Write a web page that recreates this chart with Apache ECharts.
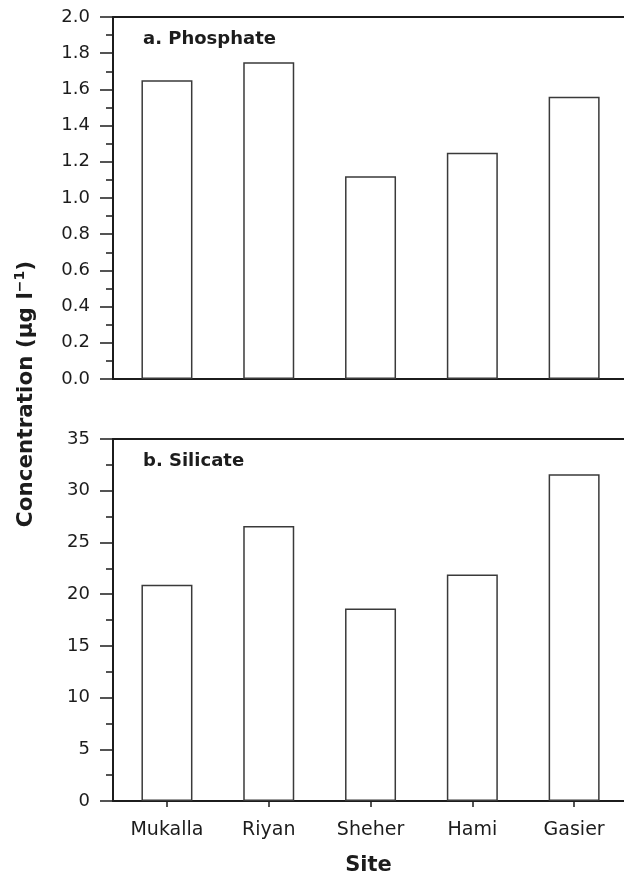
<!DOCTYPE html>
<html>
<head>
<meta charset="utf-8">
<script src="https://cdn.jsdelivr.net/npm/echarts@6/dist/echarts.min.js"></script>
<style>
html,body{margin:0;padding:0;background:#fff}
#c{width:624px;height:878px}
</style>
</head>
<body>
<div id="c"></div>
<script>
// ---- data ----
const sites = ['Mukalla', 'Riyan', 'Sheher', 'Hami', 'Gasier'];
const phosphate = [1.65, 1.75, 1.12, 1.25, 1.56];
const silicate = [20.9, 26.6, 18.6, 21.9, 31.6];
const siteTicks = [1, 2, 3, 4, 5];
const phosphateRange = [0, 2.0];
const phosphateStep = 0.2;
const silicateRange = [0, 35];
const silicateStep = 5;
const panelTitles = ['a. Phosphate', 'b. Silicate'];
const yTitle = 'Concentration (μg l{sup|−1})';
const xTitle = 'Site';

// ---- drawing ----
const FONT = 'DejaVu Sans';
const INK = '#1c1c1c';
const BAR = '#3a3a3a';
const X_MIN = 0.47, X_MAX = 5.49;

const chart = echarts.init(document.getElementById('c'), null, { renderer: 'canvas' });

function xAxisFor(grid, withLabels) {
  return {
    type: 'value', gridIndex: grid, min: X_MIN, max: X_MAX, position: 'bottom',
    splitLine: { show: false },
    axisLine: { show: true, onZero: false, lineStyle: { color: INK, width: 2 } },
    axisTick: withLabels
      ? { show: true, customValues: siteTicks, length: 6, lineStyle: { color: INK, width: 1.5 } }
      : { show: false },
    axisLabel: withLabels
      ? { show: true, customValues: siteTicks, margin: 20, fontFamily: FONT, fontSize: 19, color: INK,
          formatter: v => (Number.isInteger(v) ? (sites[v - 1] || '') : '') }
      : { show: false }
  };
}

function topFrame(grid) {
  return {
    type: 'value', gridIndex: grid, min: X_MIN, max: X_MAX, position: 'top',
    splitLine: { show: false },
    axisLine: { show: true, onZero: false, lineStyle: { color: INK, width: 2 } },
    axisTick: { show: false }, axisLabel: { show: false }
  };
}

function yAxisFor(grid, range, step, decimals) {
  return {
    type: 'value', gridIndex: grid, min: range[0], max: range[1], interval: step,
    splitLine: { show: false },
    axisLine: { show: true, onZero: false, lineStyle: { color: INK, width: 2 } },
    axisTick: { show: true, inside: false, length: 13, lineStyle: { color: INK, width: 1.5 } },
    minorTick: { show: true, splitNumber: 2, length: 7, lineStyle: { color: INK, width: 1.5 } },
    minorSplitLine: { show: false },
    axisLabel: { margin: 23, fontFamily: FONT, fontSize: 18, color: INK,
      formatter: v => v.toFixed(decimals) }
  };
}

function barSeries(grid, values) {
  return {
    type: 'bar', xAxisIndex: grid, yAxisIndex: grid,
    data: values.map((v, i) => [siteTicks[i], v]),
    barWidth: 51,
    itemStyle: { color: '#ffffff', borderColor: BAR, borderWidth: 1.5 },
    silent: true
  };
}

const option = {
  animation: false,
  backgroundColor: '#ffffff',
  grid: [
    { left: 113, right: 0, top: 17, height: 362 },
    { left: 113, right: 0, top: 439, height: 362 }
  ],
  xAxis: [xAxisFor(0, false), xAxisFor(1, true), topFrame(0), topFrame(1)],
  yAxis: [yAxisFor(0, phosphateRange, phosphateStep, 1), yAxisFor(1, silicateRange, silicateStep, 0)],
  series: [barSeries(0, phosphate), barSeries(1, silicate)],
  graphic: [
    { type: 'text', x: 143, y: 39, silent: true,
      style: { text: panelTitles[0], fontFamily: FONT, fontWeight: 'bold', fontSize: 18, fill: INK, verticalAlign: 'middle' } },
    { type: 'text', x: 143, y: 461, silent: true,
      style: { text: panelTitles[1], fontFamily: FONT, fontWeight: 'bold', fontSize: 18, fill: INK, verticalAlign: 'middle' } },
    { type: 'text', x: 26, y: 394, rotation: Math.PI / 2, silent: true,
      style: { text: yTitle, fontFamily: FONT, fontWeight: 'bold', fontSize: 21.5, fill: INK,
        align: 'center', verticalAlign: 'middle',
        rich: { sup: { fontFamily: FONT, fontWeight: 'bold', fontSize: 14, fill: INK, verticalAlign: 'top', lineHeight: 26 } } } },
    { type: 'text', x: 368.5, y: 866, silent: true,
      style: { text: xTitle, fontFamily: FONT, fontWeight: 'bold', fontSize: 21, fill: INK, align: 'center', verticalAlign: 'middle' } }
  ]
};
chart.setOption(option);
</script>
</body>
</html>
